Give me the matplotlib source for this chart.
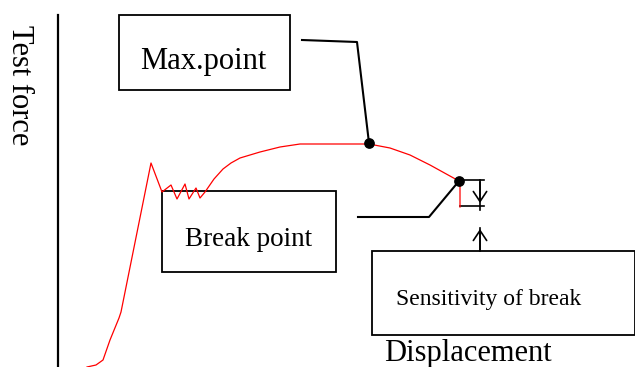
"""Schematic: test force vs displacement with max point and break detection."""

import matplotlib

matplotlib.use("Agg")
import matplotlib.pyplot as plt
from matplotlib.patches import Rectangle

# Curve (pixel units, y grows downward)
curve_x = [87, 96, 103, 110, 119, 121, 151, 162, 171, 177, 185, 189, 196, 200, 205,
           214, 223, 231, 240, 250, 260, 280, 300, 340, 369, 390, 410, 430, 459, 460, 460]
curve_y = [367, 365, 360, 340, 318, 312, 163, 192, 185, 199, 184, 199, 188, 198, 192,
           179, 169, 163, 158, 155, 152, 147, 144, 144, 144, 148, 155, 165, 181, 185, 207]

max_pt = (369, 143)
break_pt = (459, 181)

# label boxes: (x, y, w, h) and text (x, y, label, fontsize)
boxes = [(119, 15, 171, 75), (162, 191, 174, 81), (372, 251, 263, 84)]
labels = [
    (203, 61, "Max.point", 22),
    (249, 239, "Break point", 19.5),
    (489, 299, "Sensitivity of break", 17),
]

plt.rcParams["font.family"] = ["Liberation Serif", "DejaVu Serif"]
fig = plt.figure(figsize=(6.35, 3.67), dpi=100)
ax = fig.add_axes([0, 0, 1, 1])
ax.set_xlim(0, 635)
ax.set_ylim(367, 0)
ax.axis("off")

# y axis
ax.plot([58, 58], [15, 367], color="black", lw=1.6)
ax.text(19, 85, "Test force", rotation=270, ha="center", va="center", fontsize=22)
ax.text(384, 353, "Displacement", ha="left", va="center", fontsize=22)

ax.plot(curve_x, curve_y, color="red", lw=0.9, zorder=4)

for x, y, w, h in boxes:
    ax.add_patch(Rectangle((x, y), w, h, fill=False, edgecolor="black",
                           lw=1.3, zorder=3))
for x, y, txt, fs in labels:
    ax.text(x, y, txt, ha="center", va="center", fontsize=fs, zorder=4)

# leaders
ax.plot([302, 357, max_pt[0]], [40, 42, max_pt[1]], color="black", lw=1.5)
ax.plot([358, 429, break_pt[0]], [217, 217, break_pt[1]], color="black", lw=1.5)
ax.scatter([max_pt[0], break_pt[0]], [max_pt[1], break_pt[1]], s=45,
           color="black", zorder=5)

# sensitivity dimension
arrow = dict(arrowstyle="->,head_length=0.45,head_width=0.3", color="black",
             lw=1.2, mutation_scale=16, shrinkA=0, shrinkB=0)
ax.plot([460, 484], [180, 180], color="black", lw=1.2)
ax.plot([460, 484], [206, 206], color="black", lw=1.2)
ax.plot([480, 480], [180, 210], color="black", lw=1.2)
ax.plot([480, 480], [228, 251], color="black", lw=1.2)
ax.annotate("", xy=(480, 203), xytext=(480, 182), arrowprops=arrow)
ax.annotate("", xy=(480, 229), xytext=(480, 250), arrowprops=arrow)

fig.savefig("out.png", dpi=100)
